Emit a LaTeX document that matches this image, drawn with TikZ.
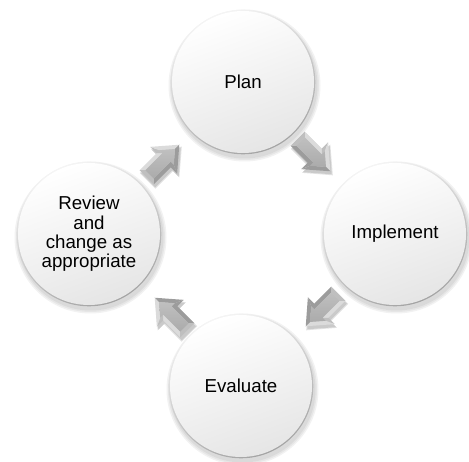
\documentclass[tikz,border=0pt]{standalone}
\usepackage{fontspec}
\setmainfont{Liberation Sans}
\usetikzlibrary{calc}
\tikzset{
  ball/.style={circle, minimum size=142pt, inner sep=0pt, align=center,
    font=\fontsize{18.7}{19.3}\selectfont, text=black,
    top color=white, bottom color=gray!20, shading angle=20},
  ballrim/.style={top color=gray!8, bottom color=gray!72, shading angle=25},
  ballshadow/.style={fill=black, opacity=0.05},
  arrshadow/.style={fill=black, opacity=0.11},
  facetlight/.style={fill=gray!28},
  facetmid/.style={fill=gray!50},
  facetdark/.style={fill=gray!78},
  facetface/.style={top color=gray!50, bottom color=gray!66},
}
\newcommand\ballback[1]{%
  \foreach \rr in {76,74.5,73} {\fill[ballshadow] ($#1+(1.5,-3.5)$) circle (\rr);}
  \shade[ballrim] #1 circle (72.3);
}
\newcommand\cycarrow[2]{%
  \begin{scope}[shift={#1}, shift={(1.5,-3)}, rotate=#2]
    \fill[arrshadow] (-24,11) -- (1,11) -- (1,20) -- (24.5,0) -- (1,-20) -- (1,-11) -- (-24,-11) -- cycle;
    \fill[arrshadow] (-23,10) -- (1,10) -- (1,19) -- (23,0) -- (1,-19) -- (1,-10) -- (-23,-10) -- cycle;
  \end{scope}
  \begin{scope}[shift={#1}, rotate=#2]
    \fill[facetlight] (-23,10) -- (1,10) -- (5,6) -- (-19,6) -- cycle;
    \fill[facetmid]   (1,10) -- (1,19) -- (5,10.26) -- (5,6) -- cycle;
    \fill[facetlight] (1,19) -- (23,0) -- (16.88,0) -- (5,10.26) -- cycle;
    \fill[facetdark]  (23,0) -- (1,-19) -- (5,-10.26) -- (16.88,0) -- cycle;
    \fill[facetdark]  (1,-19) -- (1,-10) -- (5,-6) -- (5,-10.26) -- cycle;
    \fill[facetdark]  (1,-10) -- (-23,-10) -- (-19,-6) -- (5,-6) -- cycle;
    \fill[facetmid]   (-23,-10) -- (-23,10) -- (-19,6) -- (-19,-6) -- cycle;
    \shade[facetface] (-19,6) -- (5,6) -- (5,10.26) -- (16.88,0) -- (5,-10.26) -- (5,-6) -- (-19,-6) -- cycle;
  \end{scope}
}
\begin{document}
\begin{tikzpicture}[x=1pt,y=1pt]
\useasboundingbox (0,0) rectangle (469,461);
\coordinate (cplan) at (243,379);
\coordinate (cimpl) at (395,227);
\coordinate (ceval) at (241,75);
\coordinate (crev) at (89,227);
\ballback{(cplan)}
\ballback{(cimpl)}
\ballback{(ceval)}
\ballback{(crev)}
\node[ball] (plan) at (cplan) {Plan};
\node[ball] (impl) at (cimpl) {Implement};
\node[ball] (eval) at (ceval) {Evaluate};
\node[ball] (rev) at (crev) {Review\\and\\change as\\appropriate};
\cycarrow{($(rev)!0.5!(plan)+(-3,-3)$)}{45}
\cycarrow{($(plan)!0.5!(impl)+(-5,3)$)}{-45}
\cycarrow{($(impl)!0.5!(eval)+(4,0)$)}{-135}
\cycarrow{($(eval)!0.5!(rev)+(6,-4)$)}{135}
\end{tikzpicture}
\end{document}
